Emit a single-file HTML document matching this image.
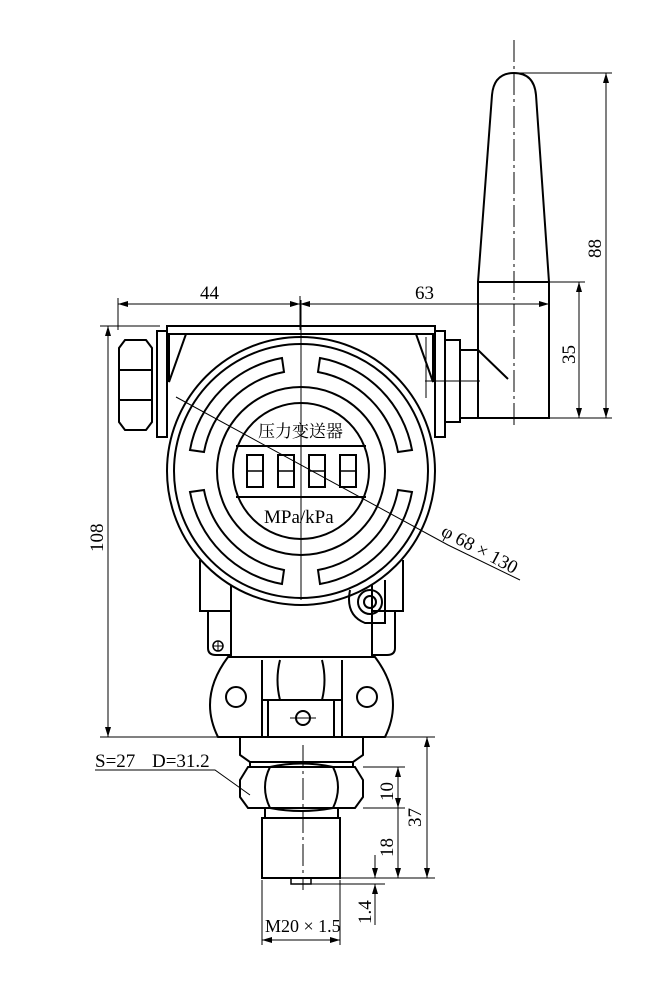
<!DOCTYPE html>
<html><head><meta charset="utf-8"><style>
html,body{margin:0;padding:0;background:#fff}
svg{display:block}
text{font-family:"Liberation Serif","Noto Serif CJK SC",serif;fill:#000}
</style></head><body>
<svg width="653" height="987" viewBox="0 0 653 987" xmlns="http://www.w3.org/2000/svg">
<defs><marker id="a" markerWidth="10" markerHeight="6" refX="10" refY="3" orient="auto-start-reverse" markerUnits="userSpaceOnUse"><path d="M0,0 L10,3 L0,6z" fill="#000"/></marker></defs>
<g fill="none" stroke="#000" stroke-width="2">
<path d="M478,282 L492,95 Q494,73 514,73 Q534,73 536,95 L549,282"/>
<rect x="478" y="282" width="71" height="136"/>
<path d="M478,350 L460,350 L460,418 L478,418 M478,350 L508,379"/>
<rect x="445" y="340" width="15" height="82"/>
<rect x="167" y="326" width="268" height="8"/>
<path d="M167,334 L167,400 M435,334 L435,400"/>
<path d="M169,334 L169,382 L186,334 M433,334 L433,382 L416,334"/>
<rect x="157" y="331" width="10" height="106"/>
<rect x="435" y="331" width="10" height="106"/>
<path d="M125,340 L146,340 L152,348 L152,422 L146,430 L125,430 L119,422 L119,348 Z M119,370 L152,370 M119,400 L152,400"/>
<circle cx="301" cy="471" r="134"/>
<circle cx="301" cy="471" r="127"/>
<circle cx="301" cy="471" r="84"/>
<circle cx="301" cy="471" r="68"/>
<path d="M236,446 L366,446 M236,497 L366,497"/>
<rect x="247" y="455" width="16" height="32"/><rect x="278" y="455" width="16" height="32"/><rect x="309" y="455" width="16" height="32"/><rect x="340" y="455" width="16" height="32"/>
<path d="M247,471 L263,471 M278,471 L294,471 M309,471 L325,471 M340,471 L356,471" stroke-width="1.5"/>
<g id="s">
<path d="M282,358 A114,114 0 0 0 190,450 L204,452 A100,100 0 0 1 284,372 Z"/>
</g>
<use href="#s" transform="translate(602,0) scale(-1,1)"/>
<use href="#s" transform="translate(0,942) scale(1,-1)"/>
<use href="#s" transform="translate(602,942) scale(-1,-1)"/>
<path d="M200,560 L200,611 L231,611 M403,560 L403,611 L372,611"/>
<path d="M231,585 L231,657 M372,585 L372,657"/>
<path d="M208,611 L208,648 Q208,655 216,655 L231,655 M395,611 L395,648 Q395,655 387,655 L372,655"/>
<circle cx="218" cy="646" r="5" stroke-width="1.5"/>
<path d="M213,646 L223,646 M218,641 L218,651" stroke-width="1"/>
<path d="M350,590 Q345,615 365,623 L385,623 L385,580" />
<circle cx="370" cy="602" r="12"/><circle cx="370" cy="602" r="6"/>
<path d="M228,657 L375,657 Q405,697 385,737 L218,737 Q198,697 228,657 Z"/>
<path d="M262,660 L262,737 M342,660 L342,737 M280,660 Q275,680 280,700 M322,660 Q327,680 322,700"/>
<rect x="268" y="700" width="66" height="37"/>
<path d="M262,700 L268,700 M334,700 L342,700"/>
<circle cx="236" cy="697" r="10"/><circle cx="367" cy="697" r="10"/>
<circle cx="303" cy="718" r="7"/>
<path d="M290,718 L316,718" stroke-width="1"/>
<path d="M240,737 L240,755 L250,762 L250,767 M363,737 L363,755 L353,762 L353,767 M250,762 L353,762"/>
<path d="M248,767 L355,767 L363,780 L363,797 L355,808 L248,808 L240,797 L240,780 Z"/>
<path d="M270,767 Q260,787 270,808 M333,767 Q343,787 333,808 M270,767 Q301,760 333,767 M270,808 Q301,814 333,808"/>
<path d="M265,808 L265,818 M338,808 L338,818"/>
<rect x="262" y="818" width="78" height="60"/>
<rect x="291" y="878" width="20" height="6" stroke-width="1.5"/>
</g>
<g fill="none" stroke="#000" stroke-width="1">
<path d="M301,300 L301,600" />
<path d="M514,40 L514,428" stroke-dasharray="22,4,3,4"/>
<path d="M303,745 L303,890" stroke-dasharray="22,4,3,4"/>
<path d="M425,381 L480,381 M426,337 L426,398"/>
<path d="M118,298 L118,330 M300,296 L300,330 M549,290 L549,300"/>
<path d="M118,304 L300,304" marker-start="url(#a)" marker-end="url(#a)"/>
<path d="M300,304 L549,304" marker-start="url(#a)" marker-end="url(#a)"/>
<path d="M514,73 L612,73 M549,282 L585,282 M549,418 L612,418"/>
<path d="M606,73 L606,418" marker-start="url(#a)" marker-end="url(#a)"/>
<path d="M579,282 L579,418" marker-start="url(#a)" marker-end="url(#a)"/>
<path d="M100,326 L160,326"/>
<path d="M108,326 L108,737" marker-start="url(#a)" marker-end="url(#a)"/>
<path d="M100,737 L240,737"/>
<path d="M176,397 L448,545 L520,580" />
<path d="M363,737 L435,737 M363,767 L405,767 M363,808 L405,808 M340,878 L435,878 M311,884 L385,884"/>
<path d="M427,737 L427,878" marker-start="url(#a)" marker-end="url(#a)"/>
<path d="M398,767 L398,808" marker-start="url(#a)" marker-end="url(#a)"/>
<path d="M398,808 L398,878" marker-end="url(#a)"/>
<path d="M375,855 L375,878" marker-end="url(#a)"/>
<path d="M375,884 L375,925" marker-start="url(#a)"/>
<path d="M262,880 L262,945 M340,880 L340,945"/>
<path d="M262,940 L340,940" marker-start="url(#a)" marker-end="url(#a)"/>
<path d="M95,770 L215,770 L250,795"/>
</g>
<g font-size="19">
<text x="200" y="299">44</text>
<text x="415" y="299">63</text>
<text x="258" y="437" font-size="17">压力变送器</text>
<text x="264" y="523">MPa/kPa</text>
<text x="95" y="767">S=27</text>
<text x="152" y="767">D=31.2</text>
<text x="265" y="932" font-size="18">M20 × 1.5</text>
<text transform="translate(440,535) rotate(28)">φ 68 × 130</text>
<text transform="translate(601,258) rotate(-90)">88</text>
<text transform="translate(575,364) rotate(-90)">35</text>
<text transform="translate(103,552) rotate(-90)">108</text>
<text transform="translate(393,801) rotate(-90)">10</text>
<text transform="translate(421,827) rotate(-90)">37</text>
<text transform="translate(393,857) rotate(-90)">18</text>
<text transform="translate(371,924) rotate(-90)">1.4</text>
</g>
</svg>
</body></html>
